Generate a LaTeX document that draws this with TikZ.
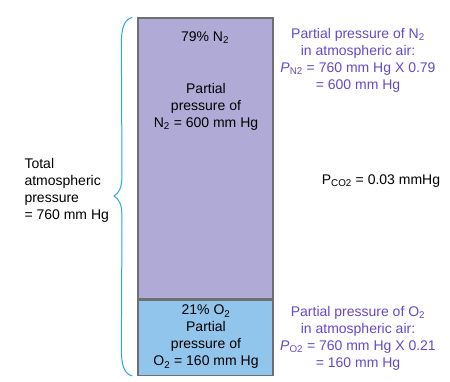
\documentclass[tikz,border=0pt]{standalone}
\usepackage{fontspec}
\setmainfont{Liberation Sans}
\usepackage{tikz}
\usetikzlibrary{positioning,calc}
\definecolor{gasnitro}{RGB}{176,170,214}
\definecolor{gasoxy}{RGB}{146,197,236}
\definecolor{gasgris}{RGB}{110,110,115}
\definecolor{gasviolet}{RGB}{102,72,200}
\definecolor{bracebleu}{RGB}{40,168,224}
\newcommand{\sub}[1]{\textsubscript{#1}}
\tikzset{
  gasbox/.style={
    rectangle, draw=gasgris, line width=1.3pt,
    minimum width=135pt, inner sep=0pt
  },
  boxtext/.style={
    align=center, font=\fontsize{14}{17}\selectfont, text=black
  },
  sidetext/.style={
    align=center, font=\fontsize{14}{17}\selectfont, text=gasviolet
  },
  bracepath/.style={draw=bracebleu, line width=1pt}
}

\begin{document}
\begin{tikzpicture}[x=1pt, y=-1pt]
  \useasboundingbox (0,0) rectangle (450,381);

  % Gas column
  \node[gasbox, fill=gasnitro, minimum height=281pt] (nitro) at (205.5,158.5) {};
  \node[gasbox, fill=gasoxy, minimum height=75pt, below=0pt of nitro] (oxy) {};

  % Texts in the column
  \node[boxtext] (nitropct) at (205,38) {79\% N\sub{2}};
  \node[boxtext] (nitropp)  at (206,107) {Partial\\pressure of\\N\sub{2} = 600 mm Hg};
  \node[boxtext] (oxypp)    at (206,337) {21\% O\sub{2}\\Partial\\pressure of\\O\sub{2} = 160 mm Hg};

  % Brace
  \coordinate (brtop) at (nitro.north west);
  \coordinate (brbot) at (oxy.south west);
  \coordinate (brtip) at (114,196);
  \draw[bracepath] ($(brtop)+(-5,0)$) .. controls ($(brtop)+(-13,2)$) and ($(brtop)+(-16,10)$) .. ($(brtop)+(-16,27)$)
    -- ($(brtip)+(8,-21)$) .. controls ($(brtip)+(8,-8)$) and ($(brtip)+(5,-3)$) .. (brtip)
    .. controls ($(brtip)+(5,3)$) and ($(brtip)+(8,8)$) .. ($(brtip)+(8,21)$)
    -- ($(brbot)+(-16,-27)$) .. controls ($(brbot)+(-16,-10)$) and ($(brbot)+(-13,-2)$) .. ($(brbot)+(-5,0)$);
  \node[boxtext, align=left, anchor=west] (total) at (21,190.5) {Total\\atmospheric\\pressure\\= 760 mm Hg};

  % Side notes
  \node[sidetext] (nitronote) at (358,60) {Partial pressure of N\sub{2}\\in atmospheric air:\\\textit{P}\sub{N2} = 760 mm Hg X 0.79\\= 600 mm Hg};
  \node[sidetext] (oxynote) at (358,338) {Partial pressure of O\sub{2}\\in atmospheric air:\\\textit{P}\sub{O2} = 760 mm Hg X 0.21\\= 160 mm Hg};
  \node[boxtext] (carbo) at (381,181) {P\sub{CO2} = 0.03 mmHg};
\end{tikzpicture}
\end{document}
